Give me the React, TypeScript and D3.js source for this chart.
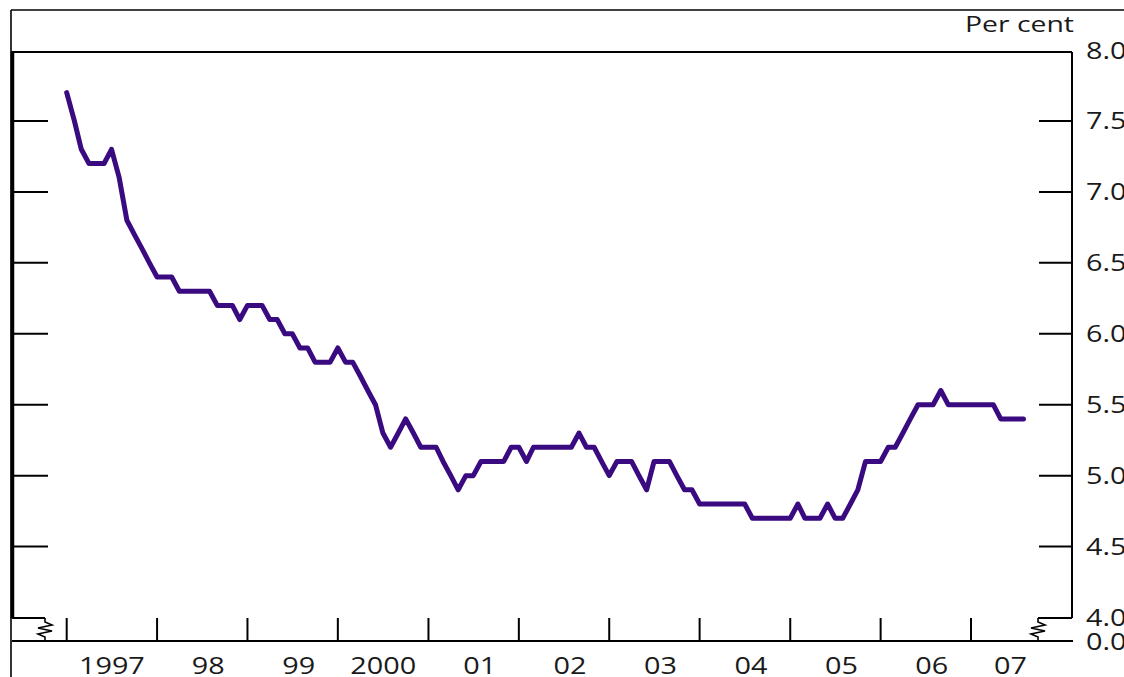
import React from "react";
import * as d3 from "d3";

// Monthly values, Jan 1997 onwards (per cent)
const values1997 = [7.7, 7.5, 7.3, 7.2, 7.2, 7.2, 7.3, 7.1, 6.8, 6.7, 6.6, 6.5];
const values1998 = [6.4, 6.4, 6.4, 6.3, 6.3, 6.3, 6.3, 6.3, 6.2, 6.2, 6.2, 6.1];
const values1999 = [6.2, 6.2, 6.2, 6.1, 6.1, 6.0, 6.0, 5.9, 5.9, 5.8, 5.8, 5.8];
const values2000 = [5.9, 5.8, 5.8, 5.7, 5.6, 5.5, 5.3, 5.2, 5.3, 5.4, 5.3, 5.2];
const values2001 = [5.2, 5.2, 5.1, 5.0, 4.9, 5.0, 5.0, 5.1, 5.1, 5.1, 5.1, 5.2];
const values2002 = [5.2, 5.1, 5.2, 5.2, 5.2, 5.2, 5.2, 5.2, 5.3, 5.2, 5.2, 5.1];
const values2003 = [5.0, 5.1, 5.1, 5.1, 5.0, 4.9, 5.1, 5.1, 5.1, 5.0, 4.9, 4.9];
const values2004 = [4.8, 4.8, 4.8, 4.8, 4.8, 4.8, 4.8, 4.7, 4.7, 4.7, 4.7, 4.7];
const values2005 = [4.7, 4.8, 4.7, 4.7, 4.7, 4.8, 4.7, 4.7, 4.8, 4.9, 5.1, 5.1];
const values2006 = [5.1, 5.2, 5.2, 5.3, 5.4, 5.5, 5.5, 5.5, 5.6, 5.5, 5.5, 5.5];
const values2007 = [5.5, 5.5, 5.5, 5.5, 5.4, 5.4, 5.4, 5.4];

const allValues = [
  ...values1997, ...values1998, ...values1999, ...values2000, ...values2001,
  ...values2002, ...values2003, ...values2004, ...values2005, ...values2006, ...values2007,
];

const tickYears = [1997, 1998, 1999, 2000, 2001, 2002, 2003, 2004, 2005, 2006, 2007];
const yearLabels = ["1997", "98", "99", "2000", "01", "02", "03", "04", "05", "06", "07"];
const yTicks = [8.0, 7.5, 7.0, 6.5, 6.0, 5.5, 5.0, 4.5, 4.0];
const innerTicks = [7.5, 7.0, 6.5, 6.0, 5.5, 5.0, 4.5];
const unitLabel = "Per cent";

const W = 1124;
const H = 677;
const left = 12;
const right = 1072;
const baseY = 641;
const breakY = 618;
const leftBreakX = 45;
const rightBreakX = 1038;
const FONT = "'Open Sans', 'Noto Sans', sans-serif";
const LINE = "#3a0a80";
const TEXT = "#1a1a1a";

export default function App() {
  const x = d3
    .scaleTime()
    .domain([new Date(1997, 0, 1), new Date(2007, 0, 1)])
    .range([66.7, 971]);
  const y = d3.scaleLinear().domain([4, 8]).range([617.5, 50]);

  const data = allValues.map((v, i) => ({ date: new Date(1997, i, 1), v }));
  const line = d3
    .line<{ date: Date; v: number }>()
    .x((d) => x(d.date))
    .y((d) => y(d.v));

  const zig = (cx: number) =>
    `M${cx},${breakY} L${cx},${breakY + 4} L${cx + 7},${breakY + 7} L${cx - 7},${breakY + 10} L${cx + 7},${breakY + 13} L${cx - 7},${breakY + 16} L${cx},${breakY + 19} L${cx},${baseY}`;

  const fs = 24;
  const sx = 1.2;

  return (
    <svg
      width={W}
      height={H}
      style={{ position: "absolute", left: 0, top: 0, background: "#fff" }}
    >
      {/* outer frame */}
      <line x1={11} y1={10} x2={W} y2={10} stroke="#000" strokeWidth={1.6} />
      <line x1={11} y1={10} x2={11} y2={H} stroke="#000" strokeWidth={1.6} />

      {/* plot frame */}
      <line x1={11} y1={52} x2={right} y2={52} stroke="#000" strokeWidth={2} />
      <line x1={12.5} y1={52} x2={12.5} y2={breakY} stroke="#000" strokeWidth={3.5} />
      <line x1={right} y1={52} x2={right} y2={breakY} stroke="#000" strokeWidth={2} />
      <line x1={left} y1={breakY} x2={leftBreakX} y2={breakY} stroke="#000" strokeWidth={1.8} />
      <line x1={rightBreakX} y1={breakY} x2={right} y2={breakY} stroke="#000" strokeWidth={1.8} />
      <line x1={left} y1={baseY} x2={right + 1} y2={baseY} stroke="#000" strokeWidth={2} />
      <path d={zig(leftBreakX)} fill="none" stroke="#000" strokeWidth={1.6} />
      <path d={zig(rightBreakX)} fill="none" stroke="#000" strokeWidth={1.6} />

      {/* y ticks */}
      {innerTicks.map((t) => (
        <g key={"yt" + t}>
          <line x1={left} x2={left + 36} y1={y(t)} y2={y(t)} stroke="#000" strokeWidth={2} />
          <line x1={right - 33} x2={right} y1={y(t)} y2={y(t)} stroke="#000" strokeWidth={2} />
        </g>
      ))}

      {/* y tick labels */}
      {yTicks.map((t) => (
        <text
          key={"yl" + t}
          transform={`translate(1086,${y(t) + 8.5}) scale(${sx},1)`}
          fontFamily={FONT}
          fontSize={fs}
          fill={TEXT}
        >
          {t.toFixed(1)}
        </text>
      ))}
      <text
        transform={`translate(1086,${baseY + 8.5}) scale(${sx},1)`}
        fontFamily={FONT}
        fontSize={fs}
        fill={TEXT}
      >
        0.0
      </text>
      <text
        x={965}
        y={32}
        textLength={109}
        lengthAdjust="spacingAndGlyphs"
        fontFamily={FONT}
        fontSize={21}
        fill={TEXT}
      >
        {unitLabel}
      </text>

      {/* x ticks */}
      {tickYears.map((yr) => {
        const xx = x(new Date(yr, 0, 1));
        return (
          <line key={"xt" + yr} x1={xx} x2={xx} y1={breakY} y2={baseY} stroke="#000" strokeWidth={2} />
        );
      })}
      {tickYears.map((yr, i) => {
        const x0 = x(new Date(yr, 0, 1));
        const x1 = i < tickYears.length - 1 ? x(new Date(yr + 1, 0, 1)) : rightBreakX;
        const off = yearLabels[i].length === 2 ? 6 : 0;
        return (
          <text
            key={"xl" + yr}
            transform={`translate(${(x0 + x1) / 2 + off},674) scale(${sx},1)`}
            textAnchor="middle"
            fontFamily={FONT}
            fontSize={fs}
            fill={TEXT}
          >
            {yearLabels[i]}
          </text>
        );
      })}

      {/* data line */}
      <path
        d={line(data) || ""}
        fill="none"
        stroke={LINE}
        strokeWidth={5}
        strokeLinejoin="round"
        strokeLinecap="round"
      />
    </svg>
  );
}
